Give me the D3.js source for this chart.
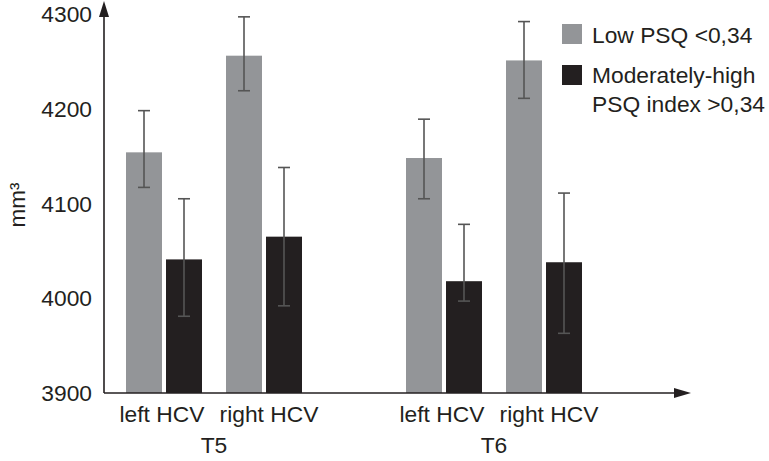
<!DOCTYPE html>
<html>
<head>
<meta charset="utf-8">
<script src="https://cdn.jsdelivr.net/npm/d3@7"></script>
<style>
  html, body { margin: 0; padding: 0; background: #fff; }
  svg { display: block; }
  text { font-family: "Liberation Sans", Arial, sans-serif; fill: #231f20; }
</style>
</head>
<body>
<svg id="chart" width="769" height="461"></svg>
<script>
// ---- data ----
const groups = ["T5", "T6"];
const categories = ["left HCV", "right HCV"];
const seriesNames = ["Low PSQ <0,34", "Moderately-high PSQ index >0,34"];
const seriesColors = ["#939598", "#231f20"];
// values ordered: [T5 left, T5 right, T6 left, T6 right]
const lowValues = [4154, 4256, 4148, 4251];
const lowErrTop = [4198, 4297, 4189, 4292];
const lowErrBottom = [4117, 4219, 4105, 4211];
const highValues = [4041, 4065, 4018, 4038];
const highErrTop = [4105, 4138, 4078, 4111];
const highErrBottom = [3981, 3992, 3997, 3963];
const yTicks = [3900, 4000, 4100, 4200, 4300];
const yLabel = "mm³";

// ---- build rows ----
const rows = [];
groups.forEach((g, gi) => {
  categories.forEach((c, ci) => {
    const i = gi * categories.length + ci;
    rows.push({group: g, cat: c, series: 0, value: lowValues[i], top: lowErrTop[i], bottom: lowErrBottom[i]});
    rows.push({group: g, cat: c, series: 1, value: highValues[i], top: highErrTop[i], bottom: highErrBottom[i]});
  });
});

const svg = d3.select("#chart");
const axisX = 104, baseY = 393;
const fs = "22.8px";

const y = d3.scaleLinear().domain([3900, 4300]).range([393, 14]);
const x0 = d3.scaleBand().domain(groups).range([126, 582]).paddingInner(104 / 280).paddingOuter(0);
const x1 = d3.scaleBand().domain(categories).range([0, x0.bandwidth()]).paddingInner(0.24).paddingOuter(0);
const x2 = d3.scaleBand().domain([0, 1]).range([0, x1.bandwidth()]).paddingInner(0.1).paddingOuter(0);

const barX = d => x0(d.group) + x1(d.cat) + x2(d.series);

// bars
svg.append("g").selectAll("rect").data(rows).join("rect")
  .attr("x", barX)
  .attr("y", d => y(d.value))
  .attr("width", x2.bandwidth())
  .attr("height", d => baseY - y(d.value))
  .attr("fill", d => seriesColors[d.series]);

// error bars
const eb = svg.append("g").attr("stroke", "#555555").attr("stroke-width", 1.6).attr("fill", "none");
const cap = 6;
rows.forEach(d => {
  const cx = barX(d) + x2.bandwidth() / 2;
  eb.append("line").attr("x1", cx).attr("x2", cx).attr("y1", y(d.top)).attr("y2", y(d.bottom));
  eb.append("line").attr("x1", cx - cap).attr("x2", cx + cap).attr("y1", y(d.top)).attr("y2", y(d.top));
  eb.append("line").attr("x1", cx - cap).attr("x2", cx + cap).attr("y1", y(d.bottom)).attr("y2", y(d.bottom));
});

// y axis tick labels
const yAxis = d3.axisLeft(y).tickValues(yTicks).tickSize(0).tickPadding(12).tickFormat(d3.format("d"));
const gy = svg.append("g").attr("transform", `translate(${axisX},0)`).call(yAxis);
gy.select(".domain").remove();
gy.selectAll("text").style("font-size", fs).attr("fill", "#231f20")
  .style("font-family", '"Liberation Sans", Arial, sans-serif').attr("dy", "0.33em");

// axis lines with arrows
const axisColor = "#231f20";
svg.append("line").attr("x1", axisX).attr("x2", axisX).attr("y1", baseY).attr("y2", 12)
  .attr("stroke", axisColor).attr("stroke-width", 1.6);
svg.append("path").attr("d", `M${axisX},1 L${axisX - 5},17 L${axisX + 5},17 Z`).attr("fill", axisColor);
svg.append("line").attr("x1", axisX).attr("x2", 678).attr("y1", baseY).attr("y2", baseY)
  .attr("stroke", axisColor).attr("stroke-width", 1.6);
svg.append("path").attr("d", `M691,${baseY} L674,${baseY - 5} L674,${baseY + 5} Z`).attr("fill", axisColor);

// category labels
const labelShift = [-2, 5];
groups.forEach(g => {
  categories.forEach((c, ci) => {
    svg.append("text")
      .attr("x", x0(g) + x1(c) + x1.bandwidth() / 2 + labelShift[ci])
      .attr("y", 421.5)
      .attr("text-anchor", "middle")
      .style("font-size", fs)
      .text(c);
  });
  svg.append("text")
    .attr("x", x0(g) + x0.bandwidth() / 2)
    .attr("y", 452.5)
    .attr("text-anchor", "middle")
    .style("font-size", fs)
    .text(g);
});

// y label
svg.append("text")
  .attr("transform", "translate(25,205) rotate(-90)")
  .attr("text-anchor", "middle")
  .style("font-size", "22.5px")
  .text(yLabel);

// legend
const legend = svg.append("g");
legend.append("rect").attr("x", 562).attr("y", 24).attr("width", 20).attr("height", 20).attr("fill", seriesColors[0]);
legend.append("text").attr("x", 592).attr("y", 43.3).style("font-size", fs).text(seriesNames[0]);
legend.append("rect").attr("x", 562).attr("y", 65).attr("width", 20).attr("height", 20).attr("fill", seriesColors[1]);
const t2 = legend.append("text").attr("x", 592).attr("y", 83.3).style("font-size", fs);
t2.append("tspan").attr("x", 592).text("Moderately-high");
t2.append("tspan").attr("x", 592).attr("dy", 28.4).text(seriesNames[1].replace("Moderately-high ", ""));
</script>
</body>
</html>
